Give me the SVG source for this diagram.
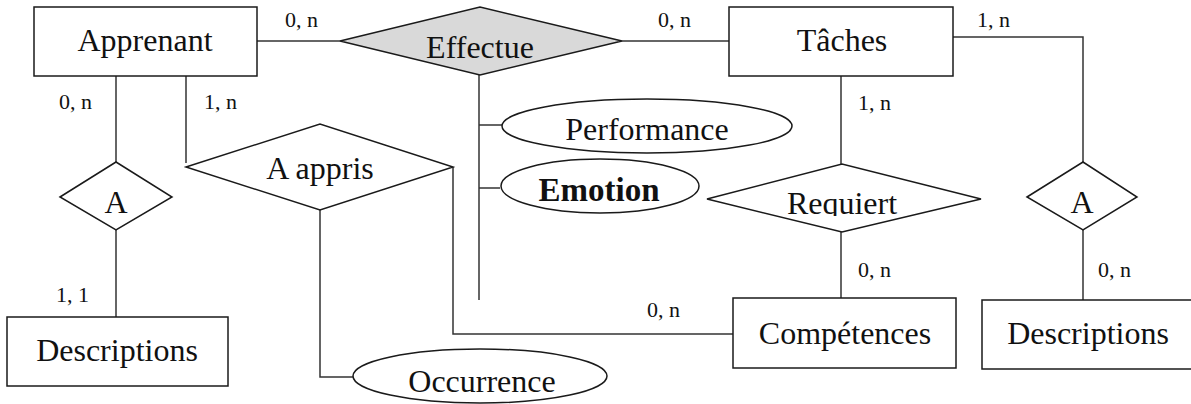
<svg xmlns="http://www.w3.org/2000/svg" width="1191" height="404" viewBox="0 0 1191 404">
  <style>
    .box { fill: #ffffff; stroke: #1a1a1a; stroke-width: 1.5; }
    .rel { fill: #ffffff; stroke: #1a1a1a; stroke-width: 1.5; }
    .rel-grey { fill: #d9d9d9; stroke: #1a1a1a; stroke-width: 1.5; }
    .attr { fill: #ffffff; stroke: #1a1a1a; stroke-width: 1.5; }
    .link { fill: none; stroke: #333333; stroke-width: 1.5; }
    .label { font-family: "Liberation Serif", "DejaVu Serif", serif; font-size: 32px; fill: #111111; text-anchor: middle; }
    .bold { font-weight: bold; font-size: 33px; }
    .card { font-family: "Liberation Serif", "DejaVu Serif", serif; font-size: 22px; fill: #111111; }
  </style>
  <defs>
    <clipPath id="requiertClip">
      <rect x="700" y="150" width="300" height="66"/>
    </clipPath>
  </defs>
  <rect width="1191" height="404" fill="#ffffff"/>

  <!-- connectors -->
  <g id="connectors">
    <line class="link" x1="257" y1="41" x2="340" y2="41"/>
    <line class="link" x1="622" y1="41" x2="729" y2="41"/>
    <polyline class="link" points="953,37 1083,37 1083,162"/>
    <line class="link" x1="1083" y1="230" x2="1083" y2="300"/>
    <line class="link" x1="841" y1="76" x2="841" y2="164"/>
    <line class="link" x1="841" y1="232" x2="841" y2="298"/>
    <polyline class="link" points="733,334 453,334 453,167"/>
    <line class="link" x1="186" y1="76" x2="186" y2="163"/>
    <line class="link" x1="116" y1="76" x2="116" y2="162"/>
    <line class="link" x1="116" y1="230" x2="116" y2="317"/>
    <polyline class="link" points="320,210 320,377 353,377"/>
    <line class="link" x1="479" y1="75" x2="479" y2="300"/>
    <line class="link" x1="479" y1="125" x2="502" y2="125"/>
    <line class="link" x1="479" y1="188" x2="500" y2="188"/>
  </g>

  <!-- cardinalities -->
  <g id="cardinalities">
    <text class="card" x="285" y="27">0, n</text>
    <text class="card" x="658" y="27">0, n</text>
    <text class="card" x="977" y="27">1, n</text>
    <text class="card" x="59" y="109">0, n</text>
    <text class="card" x="204" y="109">1, n</text>
    <text class="card" x="858" y="110">1, n</text>
    <text class="card" x="858" y="277">0, n</text>
    <text class="card" x="1098" y="277">0, n</text>
    <text class="card" x="56" y="302">1, 1</text>
    <text class="card" x="647" y="317">0, n</text>
  </g>

  <!-- entities -->
  <g id="apprenant">
    <rect class="box" x="34" y="7" width="223" height="69"/>
    <text class="label" x="145" y="51">Apprenant</text>
  </g>
  <g id="taches">
    <rect class="box" x="729" y="7" width="224" height="69"/>
    <text class="label" x="842" y="51">Tâches</text>
  </g>
  <g id="competences">
    <rect class="box" x="733" y="298" width="223" height="70"/>
    <text class="label" x="845" y="344">Compétences</text>
  </g>
  <g id="descriptions-left">
    <rect class="box" x="7" y="317" width="221" height="69"/>
    <text class="label" x="117" y="361">Descriptions</text>
  </g>
  <g id="descriptions-right">
    <rect class="box" x="982" y="300" width="220" height="69"/>
    <text class="label" x="1088" y="344">Descriptions</text>
  </g>

  <!-- relationships -->
  <g id="effectue">
    <polygon class="rel-grey" points="340,41 480,7 622,41 480,75"/>
    <text class="label" x="480" y="58">Effectue</text>
  </g>
  <g id="a-appris">
    <polygon class="rel" points="186,167 320,124 453,167 320,210"/>
    <text class="label" x="320" y="179">A appris</text>
  </g>
  <g id="a-left">
    <polygon class="rel" points="60,197 116,162 172,197 116,230"/>
    <text class="label" x="116" y="213">A</text>
  </g>
  <g id="a-right">
    <polygon class="rel" points="1027,197 1083,162 1137,197 1083,230"/>
    <text class="label" x="1082" y="213">A</text>
  </g>
  <g id="requiert">
    <polygon class="rel" points="707,199 842,164 981,199 842,232"/>
    <text class="label" x="842" y="214" clip-path="url(#requiertClip)">Requiert</text>
  </g>

  <!-- attributes -->
  <g id="performance">
    <ellipse class="attr" cx="647" cy="126" rx="145" ry="27"/>
    <text class="label" x="647" y="140">Performance</text>
  </g>
  <g id="emotion">
    <ellipse class="attr" cx="600" cy="186" rx="99" ry="27"/>
    <text class="label bold" x="599" y="201">Emotion</text>
  </g>
  <g id="occurrence">
    <ellipse class="attr" cx="480" cy="376" rx="127" ry="27"/>
    <text class="label" x="482" y="392">Occurrence</text>
  </g>
</svg>
